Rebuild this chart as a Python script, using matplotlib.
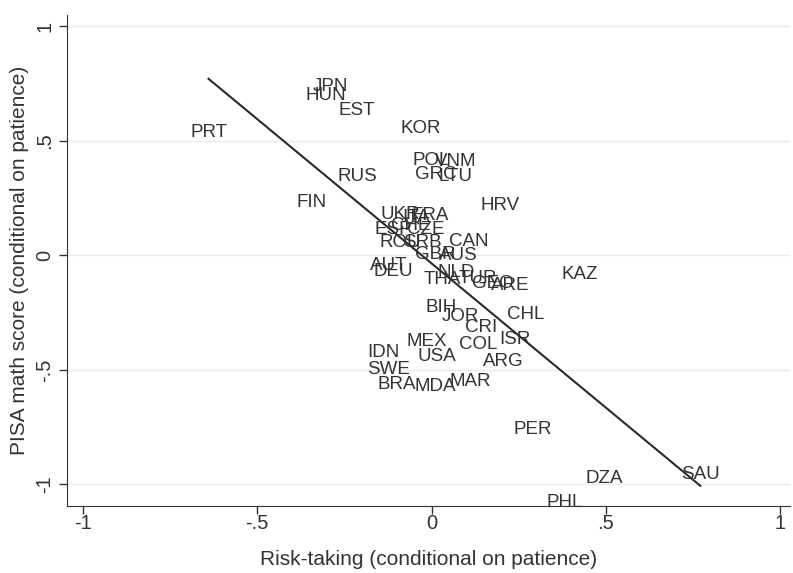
import matplotlib.pyplot as plt
import numpy as np

plt.rcParams["font.family"] = ["Liberation Sans", "DejaVu Sans"]

# country codes with (risk-taking, PISA math) residuals
countries = ["PRT", "JPN", "HUN", "EST", "KOR", "POL", "VNM", "GRC", "LTU", "RUS",
             "FIN", "HRV", "KAZ", "CHL", "PER", "DZA", "SAU", "PHL",
             "UKR", "ITA", "FRA", "ESP", "CHE", "CZE", "ROU", "SRB", "CAN", "GBR",
             "AUS", "AUT", "DEU", "THA", "NLD", "TUR", "GEO", "ARE", "BIH", "JOR",
             "CRI", "MEX", "ISR", "COL", "IDN", "USA", "ARG", "SWE", "BRA", "MDA", "MAR"]
risk = [-0.640, -0.289, -0.303, -0.214, -0.031, 0.000, 0.069, 0.011, 0.069, -0.214,
        -0.343, 0.197, 0.426, 0.271, 0.291, 0.494, 0.771, 0.383,
        -0.089, -0.043, -0.003, -0.111, -0.060, -0.017, -0.091, -0.026, 0.106, 0.011,
        0.077, -0.123, -0.109, 0.031, 0.071, 0.134, 0.177, 0.226, 0.026, 0.083,
        0.143, -0.014, 0.240, 0.134, -0.137, 0.014, 0.206, -0.123, -0.100, 0.011, 0.111]
pisa = [0.536, 0.736, 0.697, 0.632, 0.553, 0.414, 0.410, 0.353, 0.344, 0.344,
        0.231, 0.218, -0.083, -0.257, -0.762, -0.976, -0.958, -1.081,
        0.179, 0.166, 0.174, 0.113, 0.131, 0.113, 0.057, 0.057, 0.061, 0.004,
        0.000, -0.044, -0.070, -0.105, -0.074, -0.100, -0.122, -0.131, -0.227, -0.266,
        -0.314, -0.375, -0.366, -0.388, -0.423, -0.440, -0.462, -0.497, -0.562, -0.571, -0.549]

# linear fit line endpoints
fit_x = [-0.640, 0.771]
fit_y = [0.771, -1.006]

ticks = [-1, -0.5, 0, 0.5, 1]
tick_labels = ["-1", "-.5", "0", ".5", "1"]

fig = plt.figure(figsize=(7.93, 5.73), dpi=100)
ax = fig.add_axes([0.0845, 0.117, 0.912, 0.857])

for t in ticks:
    ax.axhline(t, color="#e4eef0", lw=1.0, zorder=0)

for c, x, y in zip(countries, risk, pisa):
    ax.text(x, y, c, ha="center", va="center", fontsize=13.5, color="#333333")

ax.plot(fit_x, fit_y, color="#2a2a2a", lw=1.5)

ax.set_xlim(-1.046, 1.029)
ax.set_ylim(-1.094, 1.05)
ax.set_xticks(ticks)
ax.set_xticklabels(tick_labels)
ax.set_yticks(ticks)
ax.set_yticklabels(tick_labels, rotation=90, va="center")
ax.tick_params(direction="out", length=6, width=1, colors="#333333", labelsize=14.5, pad=3)
ax.tick_params(axis="x", pad=0)
ax.spines["top"].set_visible(False)
ax.spines["right"].set_visible(False)
ax.spines["left"].set_color("#333333")
ax.spines["bottom"].set_color("#333333")
ax.set_xlabel("Risk-taking (conditional on patience)", fontsize=15, color="#333333", labelpad=12)
ax.set_ylabel("PISA math score (conditional on patience)", fontsize=15, color="#333333", labelpad=5)

fig.savefig("out.png", dpi=100)
